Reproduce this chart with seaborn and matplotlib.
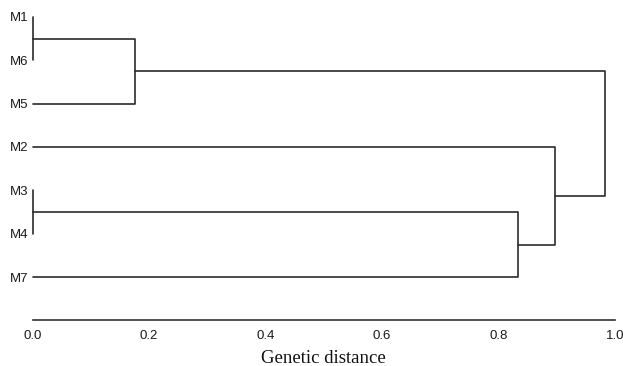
import pandas as pd
import matplotlib
matplotlib.use("Agg")
import matplotlib.pyplot as plt
import seaborn as sns

# --- Dendrogram data ---
leaf_order = ["M1", "M6", "M5", "M2", "M3", "M4", "M7"]

# each merge joins two members at a genetic distance; new clusters are C1..C6
merge_left = ["M1", "C1", "M3", "C3", "M2", "C2"]
merge_right = ["M6", "M5", "M4", "M7", "C4", "C5"]
merge_height = [0.0, 0.176, 0.0, 0.833, 0.897, 0.983]

x_ticks = [0.0, 0.2, 0.4, 0.6, 0.8, 1.0]
x_tick_labels = ["0.0", "0.2", "0.4", "0.6", "0.8", "1.0"]

# --- Build the segment table from the merges ---
node_x = {name: 0.0 for name in leaf_order}
node_y = {name: float(i) for i, name in enumerate(leaf_order)}

rows = []
for i, (a, b, h) in enumerate(zip(merge_left, merge_right, merge_height)):
    name = f"C{i + 1}"
    pts = [
        (node_x[a], node_y[a]),
        (h, node_y[a]),
        (h, node_y[b]),
        (node_x[b], node_y[b]),
    ]
    for k, (px, py) in enumerate(pts):
        rows.append({"seg": name, "order": k, "x": px, "y": py})
    node_x[name] = h
    node_y[name] = (node_y[a] + node_y[b]) / 2

seg_df = pd.DataFrame(rows)

# --- Plot ---
sns.set_style("white")
plt.rcParams["font.family"] = ["Liberation Sans", "DejaVu Sans"]

fig = plt.figure(figsize=(6.23, 3.66), dpi=100)
ax = fig.add_axes([32.5 / 623, 46 / 366, (615 - 32.5) / 623, 320 / 366])

sns.lineplot(
    data=seg_df,
    x="x",
    y="y",
    units="seg",
    estimator=None,
    sort=False,
    color="#2b2b2b",
    linewidth=1.2,
    ax=ax,
)
for line in ax.lines:
    line.set_clip_on(False)

ax.set_xlim(0, 1.0)
ax.set_ylim(6.99, -0.39)

ax.set_yticks(range(len(leaf_order)))
ax.set_yticklabels(leaf_order, fontsize=9.5, color="#1a1a1a")
ax.set_xticks(x_ticks)
ax.set_xticklabels(x_tick_labels, fontsize=9.5, color="#1a1a1a")
ax.tick_params(axis="y", length=0, pad=3)
ax.tick_params(axis="x", length=0, pad=7)

for side in ["top", "right", "left"]:
    ax.spines[side].set_visible(False)
ax.spines["bottom"].set_color("#333333")
ax.spines["bottom"].set_linewidth(1.2)

ax.set_ylabel("")
ax.set_xlabel("Genetic distance", fontsize=13.5, family="Liberation Serif",
              color="#111111", labelpad=6)

fig.savefig("out.png", dpi=100)
